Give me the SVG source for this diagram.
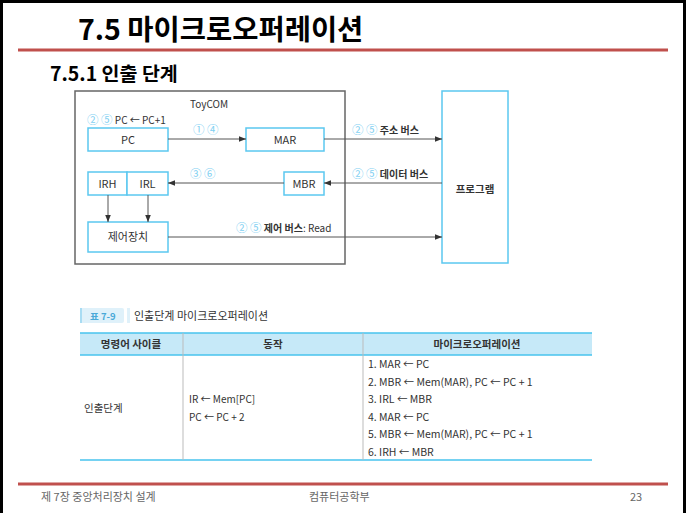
<svg xmlns="http://www.w3.org/2000/svg" width="686" height="513" viewBox="0 0 686 513">
<defs>
<style>
.t{font-family:"Noto Sans CJK KR","Noto Sans",sans-serif;fill:#333}
.box{fill:#fff;stroke:#5bc8f0;stroke-width:1.5}
.ln{stroke:#555;stroke-width:1;fill:none}
.cn{fill:#7fd0f2;font-size:11.5px}
.cell{stroke:#bbb;stroke-width:1}
.blue{stroke:#47c3ee;stroke-width:1.5}
</style>
<marker id="ah" viewBox="0 0 10 10" refX="10" refY="5" markerWidth="7" markerHeight="7" orient="auto" markerUnits="userSpaceOnUse">
<path d="M0,1 L10,5 L0,9 z" fill="#333"/>
</marker>
</defs>
<rect width="686" height="513" fill="#fff"/>
<path d="M1.5,513 V1.5 H684.5 V513" fill="none" stroke="#000" stroke-width="3"/>

<text class="t" x="78" y="40" font-size="28.5" font-weight="bold" style="fill:#000">7.5 마이크로오퍼레이션</text>
<line x1="18" y1="50" x2="668" y2="50" stroke="#c0504d" stroke-width="3"/>
<text class="t" x="50" y="81" font-size="19.5" font-weight="bold" style="fill:#000">7.5.1 인출 단계</text>

<g id="toycom">
<rect x="75" y="91" width="270" height="173" fill="none" stroke="#666" stroke-width="1.5"/>
<text class="t" x="209" y="108" font-size="10" text-anchor="middle">ToyCOM</text>
</g>
<g id="pc">
<rect class="box" x="88" y="128" width="80" height="23"/>
<text class="t" x="128" y="144" font-size="11" text-anchor="middle">PC</text>
</g>
<g id="mar">
<rect class="box" x="246" y="128" width="78" height="23"/>
<text class="t" x="285" y="144" font-size="11" text-anchor="middle">MAR</text>
</g>
<g id="irh">
<rect class="box" x="88" y="172" width="39" height="23"/>
<text class="t" x="107.5" y="188" font-size="11" text-anchor="middle">IRH</text>
</g>
<g id="irl">
<rect class="box" x="127" y="172" width="41" height="23"/>
<text class="t" x="147.5" y="188" font-size="11" text-anchor="middle">IRL</text>
</g>
<g id="mbr">
<rect class="box" x="284" y="172" width="40" height="23"/>
<text class="t" x="304" y="188" font-size="11" text-anchor="middle">MBR</text>
</g>
<g id="control">
<rect class="box" x="88" y="222" width="80" height="30"/>
<text class="t" x="128" y="241" font-size="11" text-anchor="middle">제어장치</text>
</g>
<g id="program">
<rect class="box" x="442" y="91" width="66" height="172"/>
<text class="t" x="475" y="193" font-size="10.5" font-weight="bold" text-anchor="middle">프로그램</text>
</g>

<g id="connectors">
<line class="ln" x1="168" y1="139" x2="246" y2="139" marker-end="url(#ah)"/>
<line class="ln" x1="324" y1="139" x2="442" y2="139" marker-end="url(#ah)"/>
<line class="ln" x1="442" y1="183" x2="324" y2="183" marker-end="url(#ah)" stroke="#999"/>
<line class="ln" x1="284" y1="183" x2="168" y2="183" marker-end="url(#ah)" stroke="#999"/>
<line class="ln" x1="108" y1="195" x2="108" y2="222" marker-end="url(#ah)"/>
<line class="ln" x1="148" y1="195" x2="148" y2="222" marker-end="url(#ah)"/>
<line class="ln" x1="168" y1="237" x2="442" y2="237" marker-end="url(#ah)"/>
</g>

<g id="labels">
<text class="t" x="87" y="124" font-size="10"><tspan class="cn">② ⑤</tspan> PC ← PC+1</text>
<text class="t cn" x="193" y="134">① ④</text>
<text class="t cn" x="190" y="178">③ ⑥</text>
<text class="t" x="352" y="134" font-size="10"><tspan class="cn">② ⑤</tspan> <tspan font-weight="bold">주소 버스</tspan></text>
<text class="t" x="352" y="178" font-size="10"><tspan class="cn">② ⑤</tspan> <tspan font-weight="bold">데이터 버스</tspan></text>
<text class="t" x="236" y="232" font-size="10"><tspan class="cn">② ⑤</tspan> <tspan font-weight="bold">제어 버스</tspan>: Read</text>
</g>

<g id="caption">
<rect x="80" y="308" width="44" height="15" rx="2" fill="#dff1fa"/>
<rect x="80" y="308" width="2" height="15" fill="#a8dcf3"/>
<text class="t" x="90" y="319.5" font-size="9.5" font-weight="bold" style="fill:#4aa9d8">표 7-9</text>
<rect x="127" y="308" width="3" height="15" fill="#dff1fa"/>
<text class="t" x="134" y="320" font-size="11">인출단계 마이크로오퍼레이션</text>
</g>

<g id="table">
<rect x="80" y="333" width="512" height="22" fill="#c6e9f8"/>
<line class="blue" x1="80" y1="333" x2="592" y2="333"/>
<line class="blue" x1="80" y1="355" x2="592" y2="355"/>
<line class="blue" x1="80" y1="460" x2="592" y2="460"/>
<line class="cell" x1="183" y1="333" x2="183" y2="460"/>
<line class="cell" x1="363" y1="333" x2="363" y2="460"/>
<text class="t" x="131" y="348" font-size="10.5" font-weight="bold" text-anchor="middle">명령어 사이클</text>
<text class="t" x="273" y="348" font-size="10.5" font-weight="bold" text-anchor="middle">동작</text>
<text class="t" x="477" y="348" font-size="10.5" font-weight="bold" text-anchor="middle">마이크로오퍼레이션</text>
<text class="t" x="84" y="412" font-size="10.5">인출단계</text>
<text class="t" x="189" y="403" font-size="10">IR ← Mem[PC]</text>
<text class="t" x="189" y="421" font-size="10">PC ← PC + 2</text>
<g font-size="10.5">
<text class="t" x="368" y="368">1. MAR ← PC</text>
<text class="t" x="368" y="386">2. MBR ← Mem(MAR), PC ← PC + 1</text>
<text class="t" x="368" y="403">3. IRL ← MBR</text>
<text class="t" x="368" y="421">4. MAR ← PC</text>
<text class="t" x="368" y="438">5. MBR ← Mem(MAR), PC ← PC + 1</text>
<text class="t" x="368" y="456">6. IRH ← MBR</text>
</g>
</g>

<line x1="18" y1="484" x2="668" y2="484" stroke="#c0504d" stroke-width="3"/>
<g id="footer" font-size="11">
<text class="t" x="41" y="501" style="fill:#666">제 7장 중앙처리장치 설계</text>
<text class="t" x="309" y="501" style="fill:#666">컴퓨터공학부</text>
<text class="t" x="630" y="501" style="fill:#666">23</text>
</g>
</svg>
